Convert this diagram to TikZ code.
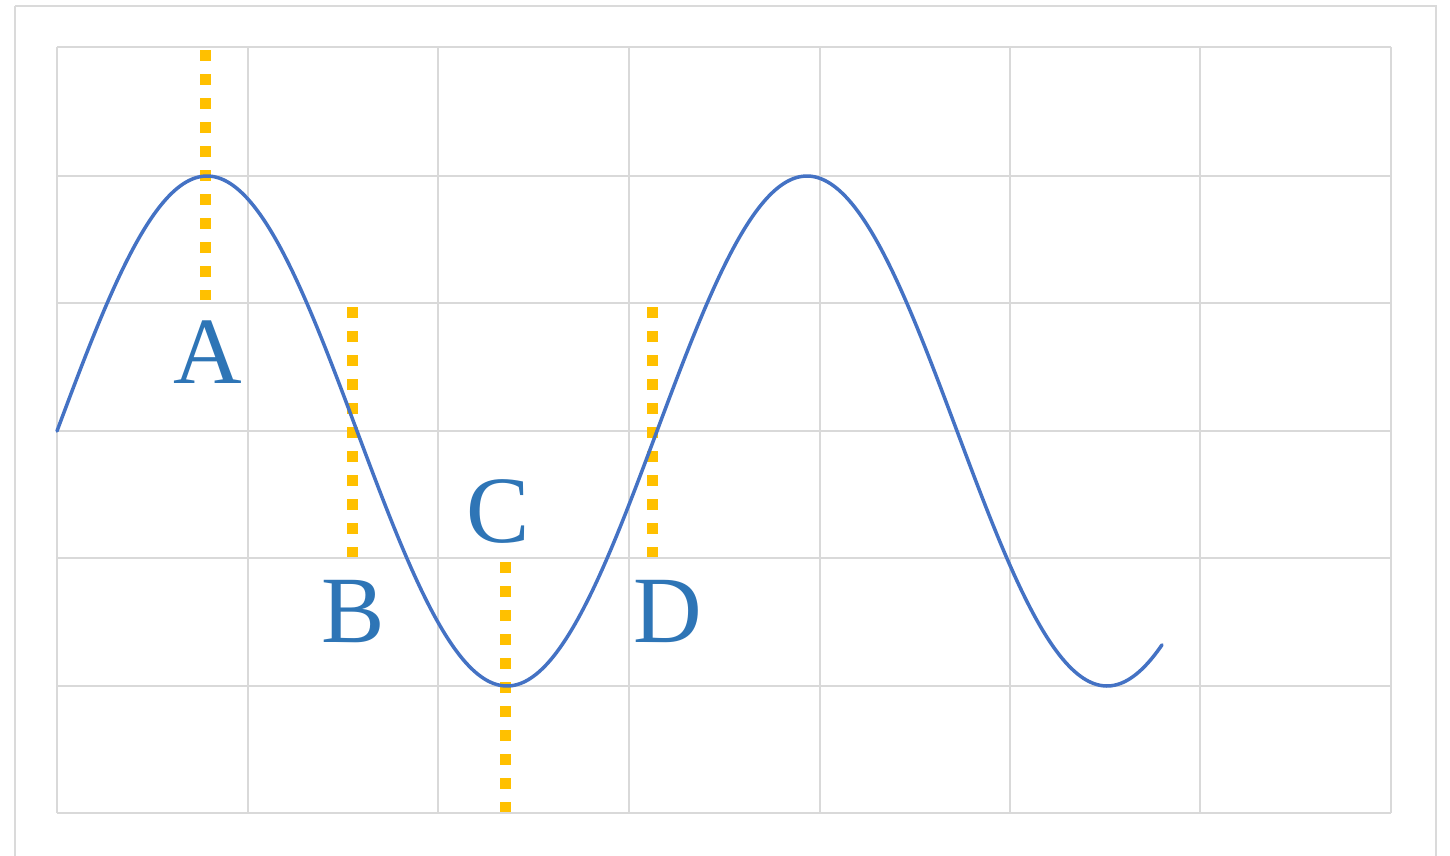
\documentclass[tikz,border=0pt]{standalone}
\usepackage{fontspec}
\setmainfont{Liberation Serif}
\definecolor{gridgray}{HTML}{D9D9D9}
\definecolor{framegray}{HTML}{DADADA}
\definecolor{wave}{HTML}{4472C4}
\definecolor{gold}{HTML}{FFC000}
\definecolor{labelblue}{HTML}{2E75B6}
\tikzset{
  gridline/.style={draw=gridgray, line width=2.5pt},
  marker/.style={draw=gold, line width=11pt, dash pattern=on 11pt off 13pt},
  lbl/.style={text=labelblue, font=\fontsize{95}{95}\selectfont, anchor=base, inner sep=0pt}
}
\begin{document}
\begin{tikzpicture}[x=1pt,y=-1pt]
\useasboundingbox (0,0) rectangle (1450,855);
\fill[white] (0,0) rectangle (1450,855);
\draw[draw=framegray, line width=2.5pt] (15,6) -- (1436,6) -- (1436,870) (15,6) -- (15,870);
% grid
\foreach \x in {57,248,438,629,820,1010,1200,1391}
  \draw[gridline] (\x,47) -- (\x,813);
\foreach \y in {47,176,303,431,558,686,813}
  \draw[gridline] (57,\y) -- (1391,\y);
% markers
\coordinate (a1) at (205,50); \coordinate (a2) at (205,300);
\coordinate (b1) at (352,307); \coordinate (b2) at (352,557);
\coordinate (c1) at (505,562); \coordinate (c2) at (505,812);
\coordinate (d1) at (652,307); \coordinate (d2) at (652,557);
\draw[marker] (a1) -- (a2);
\draw[marker] (b1) -- (b2);
\draw[marker] (c1) -- (c2);
\draw[marker] (d1) -- (d2);
% wave
\draw[wave, line width=3.5pt, line cap=round] plot[domain=57:1162, samples=240, smooth] (\x,{431-255*sin(0.6*(\x-57))});
% labels
\node[lbl] (A) at (208,383) {A};
\node[lbl] (B) at (353,642) {B};
\node[lbl] (C) at (498,542) {C};
\node[lbl] (D) at (668,642) {D};
\end{tikzpicture}
\end{document}
